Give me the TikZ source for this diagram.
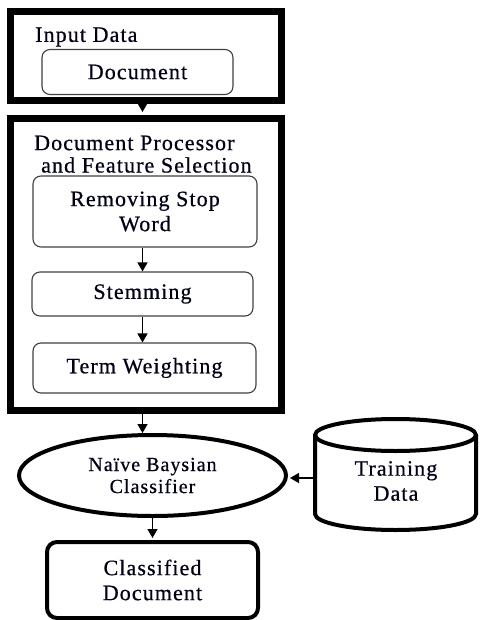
\documentclass[tikz,border=0pt]{standalone}
\usepackage{fontspec}
\setmainfont{Liberation Serif}[LetterSpace=5, FakeBold=0.6]
\usetikzlibrary{arrows.meta,shapes.geometric,calc}
\tikzset{
  lbl/.style={font=\fontsize{22}{25}\selectfont, text=black!90!blue},
  stage/.style={draw=black, line width=7pt, inner sep=0pt},
  substep/.style={draw=black!75, line width=1.1pt, rounded corners=8pt, inner sep=0pt, lbl, align=center},
  heavy/.style={draw=black, line width=4pt, inner sep=0pt, lbl, align=center},
  arr/.style={line width=1.4pt, -{Triangle[width=10pt,length=9pt]}}
}
\begin{document}
\begin{tikzpicture}[x=1pt,y=-1pt]
\useasboundingbox (0,0) rectangle (479,620);

% outer stages
\node[stage, minimum width=271pt, minimum height=89.5pt] (box1) at (145.5,56) {};
\node[stage, minimum width=271pt, minimum height=291pt] (box2) at (145.5,264.5) {};

% stage titles
\node[lbl, anchor=west, inner sep=0pt] (t1) at (35,37) {Input Data};
\node[lbl, anchor=west, inner sep=0pt] (t2a) at (34,143) {Document Processor};
\node[lbl, anchor=west, inner sep=0pt] (t2b) at (41,165) {and Feature Selection};

% steps
\node[substep, minimum width=191pt, minimum height=45pt] (doc) at (137.5,72) {Document};
\node[substep, minimum width=224pt, minimum height=71pt] (remove) at (145,211.5) {Removing Stop\\Word};
\node[substep, minimum width=221pt, minimum height=44pt] (stem) at (142.5,294) {Stemming};
\node[substep, minimum width=223pt, minimum height=50pt] (term) at (144.5,368) {Term Weighting};

% classifier and output
\node[heavy, ellipse, minimum width=267pt, minimum height=81pt, font=\fontsize{20}{22}\selectfont] (nb) at (152.5,475.5) {Naïve Baysian\\Classifier};
\node[heavy, rounded corners=10pt, minimum width=211pt, minimum height=76pt] (cls) at (152.5,580) {Classified\\Document};

% training data store
\draw[line width=4pt] (315,435) -- (315,514) arc[start angle=180, end angle=360, x radius=80.5, y radius=-16] -- (476,435);
\draw[line width=4pt] (395.5,435) ellipse[x radius=80.5, y radius=16];
\node[lbl, align=center] (train) at (396,481) {Training\\Data};
\coordinate (tleft) at (313,478);

% connectors
\draw[arr, shorten >=3.5pt] (box1.south -| stem) -- (box2.north -| stem);
\draw[arr] (remove.south -| stem) -- (stem.north);
\draw[arr] (stem.south) -- (term.north -| stem);
\draw[arr, shorten >=2pt] (box2.south -| stem) -- ($(stem |- nb.north)+(0,2)$);
\draw[arr, shorten >=2pt] (nb.south) -- (cls.north);
\draw[arr, shorten >=2pt] (tleft) -- (tleft -| nb.east);
\end{tikzpicture}
\end{document}
